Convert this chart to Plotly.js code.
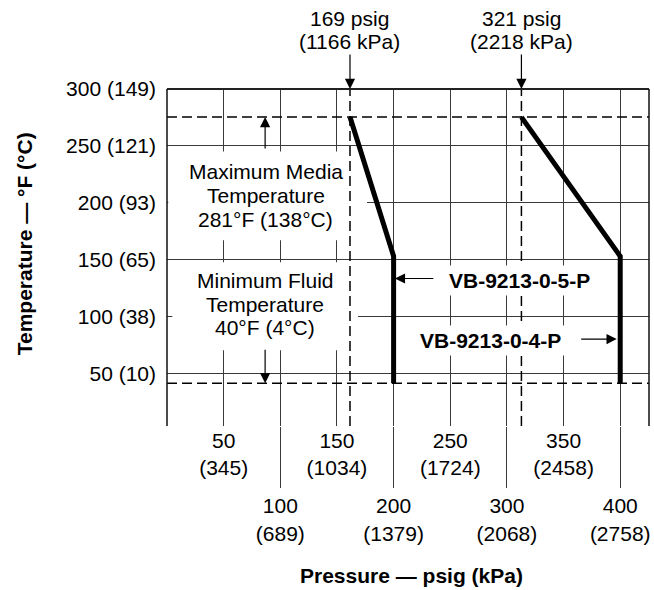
<!DOCTYPE html>
<html>
<head>
<meta charset="utf-8">
<script src="https://cdn.plot.ly/plotly-3.0.1.min.js"></script>
<style>html,body{margin:0;padding:0;background:#fff;}#chart{width:654px;height:590px;}</style>
</head>
<body>
<div id="chart"></div>
<script>
// ---- data ----
const pressureTicksUpper = [50, 150, 250, 350];
const kpaTicksUpper = ['345', '1034', '1724', '2458'];
const pressureTicksLower = [100, 200, 300, 400];
const kpaTicksLower = ['689', '1379', '2068', '2758'];
const tempTicksF = [50, 100, 150, 200, 250, 300];
const tempTicksC = ['10', '38', '65', '93', '121', '149'];

const vb5Pressure = [161.5, 200, 200];
const vb5Temp = [275.3, 153, 41.3];
const vb4Pressure = [312.8, 400, 400];
const vb4Temp = [275.3, 153, 41.3];

const maxMediaTemp = 275.3;
const minFluidTemp = 41.3;
const limitPressures = [161.5, 312.8];
const limitPsigLabels = ['169 psig', '321 psig'];
const limitKpaLabels = ['(1166 kPa)', '(2218 kPa)'];

const xRange = [0, 425.4];
const yRange = [3.7, 300];

const FONT = 'Liberation Sans, Arial, Helvetica, sans-serif';
const FS = 21;
const GRID = '#3a3a3a';

const dashStyle = '10px,5px';

const traces = [
  {x: xRange, y: [maxMediaTemp, maxMediaTemp], mode: 'lines', line: {color: '#000', width: 1.5, dash: dashStyle}, hoverinfo: 'skip'},
  {x: xRange, y: [minFluidTemp, minFluidTemp], mode: 'lines', line: {color: '#000', width: 1.5, dash: dashStyle}, hoverinfo: 'skip'},
  {x: [limitPressures[0], limitPressures[0]], y: yRange, mode: 'lines', line: {color: '#000', width: 1.5, dash: dashStyle}, hoverinfo: 'skip'},
  {x: [limitPressures[1], limitPressures[1]], y: yRange, mode: 'lines', line: {color: '#000', width: 1.5, dash: dashStyle}, hoverinfo: 'skip'},
  {x: vb5Pressure, y: vb5Temp, mode: 'lines', line: {color: '#000', width: 5}, name: 'VB-9213-0-5-P'},
  {x: vb4Pressure, y: vb4Temp, mode: 'lines', line: {color: '#000', width: 5}, name: 'VB-9213-0-4-P'},
  {x: pressureTicksUpper, y: pressureTicksUpper.map(() => null), xaxis: 'x2', mode: 'markers', hoverinfo: 'skip'}
];

const txt = (s, bold) => bold ? '<b>' + s + '</b>' : s;
const ann = [];
function textAnn(x, y, s, opts) {
  ann.push(Object.assign({x: x, y: y, xref: 'x', yref: 'y', text: s, showarrow: false,
    font: {family: FONT, size: FS, color: '#000'}, xanchor: 'center', yanchor: 'middle'}, opts || {}));
}
function arrowAnn(x, y, ax, ay) {
  ann.push({x: x, y: y, xref: 'x', yref: 'y', text: '', showarrow: true, ax: ax, ay: ay,
    arrowhead: 2, arrowsize: 1.7, arrowwidth: 1.2, arrowcolor: '#000', standoff: 0});
}

// Max / Min media text
textAnn(87.1, 227.8, 'Maximum Media');
textAnn(87.1, 206.5, 'Temperature');
textAnn(87.1, 185.7, '281°F (138°C)');
textAnn(86.8, 131.6, 'Minimum Fluid');
textAnn(86.8, 110.5, 'Temperature');
textAnn(86.8, 90.0, '40°F (4°C)');
arrowAnn(86.6, maxMediaTemp, 0, 33);
arrowAnn(86.6, minFluidTemp, 0, -35);

// curve labels
textAnn(311.3, 131.7, txt('VB-9213-0-5-P', true), {bgcolor: '#fff', borderpad: 3});
textAnn(285.8, 78.7, txt('VB-9213-0-4-P', true), {bgcolor: '#fff', borderpad: 3});
arrowAnn(201.1, 133.4, 40, 0);
arrowAnn(396.9, 80.1, -37, 0);

// top pressure limits
limitPressures.forEach((p, i) => {
  textAnn(p, 1.2089, limitPsigLabels[i], {yref: 'paper'});
  textAnn(p, 1.1407, limitKpaLabels[i], {yref: 'paper'});
  arrowAnn(p, yRange[1], 0, -36);
});

// axis titles
ann.push({xref: 'paper', yref: 'paper', x: -0.2956, y: 0.5407, text: txt('Temperature — °F (°C)', true),
  textangle: -90, showarrow: false, font: {family: FONT, size: FS, color: '#000'}, xanchor: 'center', yanchor: 'middle'});
ann.push({xref: 'paper', yref: 'paper', x: 0.5075, y: -0.4444, text: txt('Pressure — psig (kPa)', true),
  showarrow: false, font: {family: FONT, size: FS, color: '#000'}, xanchor: 'center', yanchor: 'middle'});

const layout = {
  width: 654, height: 590,
  margin: {l: 166.7, r: 4.5, t: 88.5, b: 164},
  paper_bgcolor: '#fff', plot_bgcolor: '#fff',
  showlegend: false,
  font: {family: FONT, size: FS, color: '#000'},
  xaxis: {
    range: xRange, tickmode: 'array', tickvals: pressureTicksLower,
    ticktext: pressureTicksLower.map((v, i) => v + '<br>(' + kpaTicksLower[i] + ')'),
    ticks: 'outside', ticklen: 61, tickwidth: 1, tickcolor: GRID,
    showgrid: true, gridcolor: GRID, gridwidth: 1, zeroline: false, showline: false,
    tickfont: {family: FONT, size: FS, color: '#000'}, fixedrange: true
  },
  xaxis2: {
    overlaying: 'x', anchor: 'y', side: 'bottom', range: xRange, tickmode: 'array',
    tickvals: pressureTicksUpper,
    ticktext: pressureTicksUpper.map((v, i) => v + '<br>(' + kpaTicksUpper[i] + ')'),
    ticks: '', showgrid: true, gridcolor: GRID, gridwidth: 1, zeroline: false, showline: false,
    tickfont: {family: FONT, size: FS, color: '#000'}, fixedrange: true
  },
  yaxis: {
    range: yRange, tickmode: 'array', tickvals: tempTicksF,
    ticktext: tempTicksF.map((v, i) => v + ' (' + tempTicksC[i] + ')'),
    ticks: '', ticklabelstandoff: 10,
    showgrid: true, gridcolor: GRID, gridwidth: 1, zeroline: false, showline: false,
    tickfont: {family: FONT, size: FS, color: '#000'}, fixedrange: true
  },
  shapes: [
    {type: 'rect', xref: 'x', yref: 'y', x0: 1.15, x1: 176.5, y0: 167.0, y1: 245.1, fillcolor: '#fff', line: {width: 0}, layer: 'between'},
    {type: 'rect', xref: 'x', yref: 'y', x0: 4.7, x1: 168.5, y0: 70.4, y1: 147.7, fillcolor: '#fff', line: {width: 0}, layer: 'between'},
    {type: 'line', xref: 'paper', yref: 'paper', x0: 0, x1: 1, y0: 1, y1: 1, line: {color: '#222', width: 2}},
    {type: 'line', xref: 'paper', yref: 'paper', x0: 0, x1: 0, y0: 0, y1: 1, line: {color: '#111', width: 1.5}},
    {type: 'line', xref: 'paper', yref: 'paper', x0: 1, x1: 1, y0: 0, y1: 1, line: {color: '#111', width: 1.5}}
  ],
  annotations: ann
};

Plotly.newPlot('chart', traces, layout, {staticPlot: true, displayModeBar: false});
</script>
</body>
</html>
